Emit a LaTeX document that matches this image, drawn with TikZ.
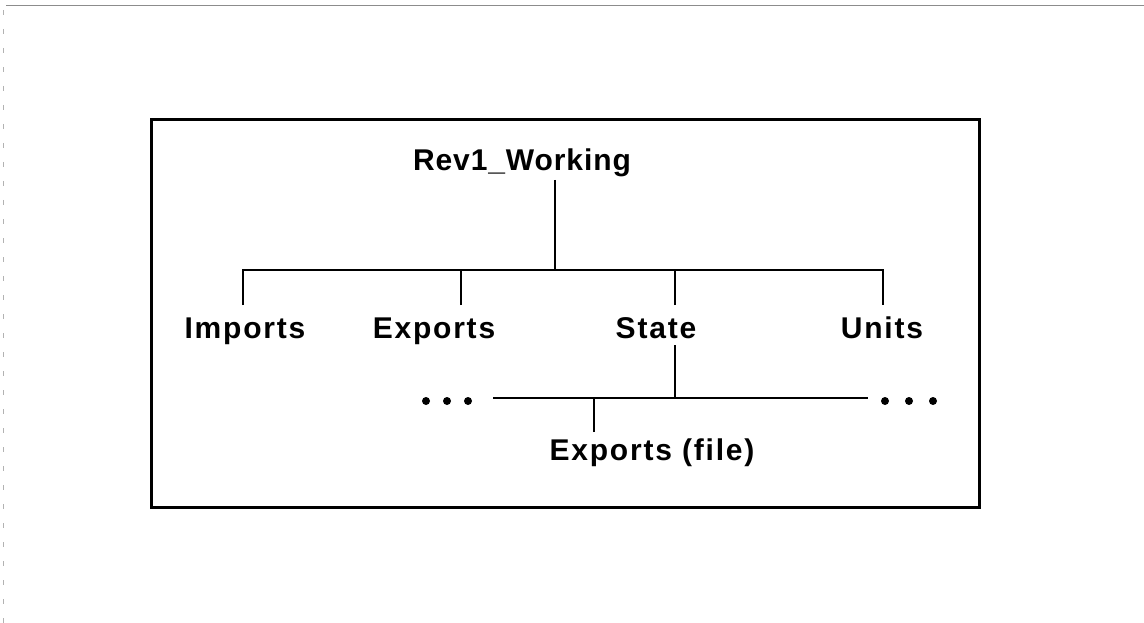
\documentclass[tikz,border=0pt]{standalone}
\usepackage{fontspec}
\setmainfont{Liberation Sans}
\newfontfamily\lblfont[LetterSpace=6]{Liberation Sans}
\newfontfamily\rootfont[LetterSpace=3]{Liberation Sans}
\begin{document}
\begin{tikzpicture}[x=1pt,y=-1pt,
  lbl/.style={inner sep=0pt, anchor=base, font=\lblfont\bfseries\fontsize{30}{34}\selectfont},
  rootlbl/.style={lbl, font=\rootfont\bfseries\fontsize{30}{34}\selectfont},
  frame/.style={line width=3pt},
  link/.style={line width=2pt},
  edge/.style={line width=0.7pt, black!45},
  dot/.style={circle, fill=black, inner sep=0pt, minimum size=8pt}]
\useasboundingbox (0,0) rectangle (1144,623);
% page edges
\draw[edge] (6,5) -- (1144,5);
\draw[edge, black!30, dash pattern=on 5pt off 14pt] (3,10) -- (3,623);
% outer frame
\draw[frame] (151,120) rectangle (979,507);
% labels
\node[rootlbl] (rev) at (522,171) {Rev1\_Working};
\node[lbl] (imports) at (245,338) {Imports};
\node[lbl] (exports) at (434,338) {Exports};
\node[lbl] (state) at (656,338) {State};
\node[lbl] (units) at (882,338) {Units};
\node[lbl] (expfile) at (652,460) {Exports (file)};
% junction points
\coordinate (revfoot) at (555,180);
\coordinate (bar) at (555,270);
\coordinate (impTop) at (243,305);
\coordinate (expTop) at (461,305);
\coordinate (staTop) at (675,305);
\coordinate (uniTop) at (883,305);
\coordinate (staFoot) at (675,345);
\coordinate (lowL) at (493,398);
\coordinate (lowR) at (868,398);
\coordinate (fileTop) at (594,432);
% tree
\draw[link] (revfoot) -- (bar);
\draw[link] (impTop) -- (impTop |- bar) -- (uniTop |- bar) -- (uniTop);
\draw[link] (expTop) -- (expTop |- bar);
\draw[link] (staTop) -- (staTop |- bar);
\draw[link] (staFoot) -- (staFoot |- lowL);
\draw[link] (lowL) -- (lowR);
\draw[link] (fileTop) -- (fileTop |- lowL);
% ellipsis dots
\foreach \i/\x in {1/426,2/447,3/468} \node[dot] (dl\i) at (\x,401) {};
\foreach \i/\x in {1/885,2/909,3/933} \node[dot] (dr\i) at (\x,401) {};
\end{tikzpicture}
\end{document}
